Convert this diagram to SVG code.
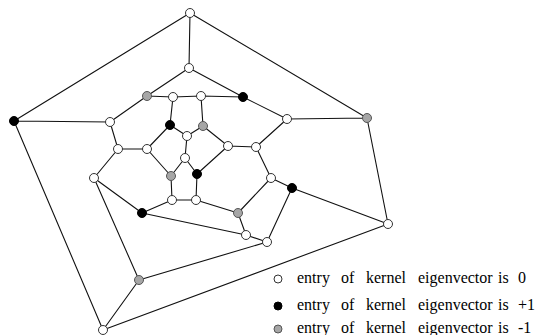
<svg xmlns="http://www.w3.org/2000/svg" width="538" height="335" viewBox="0 0 538 335">
<style>
.e{stroke:#111;stroke-width:1.1;fill:none}
.z{fill:#fff;stroke:#333;stroke-width:1}
.p{fill:#000;stroke:#000;stroke-width:1}
.m{fill:#a6a6a6;stroke:#555;stroke-width:1}
.n circle{r:4.5}
text{font-family:"Liberation Serif","Times New Roman",serif;font-size:16px;fill:#000}
</style>
<rect width="538" height="335" fill="#fff"/>
<g id="connectors">
<path class="e" d="M190,13L189,68M190,13L14,121M190,13L367,118M14,121L110,122M14,121L103,330M367,118L287,119M367,118L388,224M388,224L292,188M388,224L103,330M103,330L139,280M189,68L147,96M189,68L243,97M147,96L173,97L201,96L243,97M147,96L110,122M243,97L287,119M173,97L170,125M201,96L203,126M110,122L118,149M118,149L147,149M118,149L94,178M147,149L170,125M147,149L171,176M170,125L187,136M187,136L203,126M187,136L185,158M185,158L197,174M185,158L171,176M171,176L172,200M197,174L196,200M172,200L196,200M172,200L142,213M196,200L238,213M197,174L228,146M203,126L228,146M228,146L256,147M256,147L287,119M256,147L271,178M271,178L292,188M271,178L238,213M238,213L246,235M292,188L267,242M246,235L142,213M267,242L139,280M94,178L142,213M94,178L139,280M246,235L267,242"/>
</g>
<g id="nodes" class="n">
<circle id="n1" class="z" cx="190" cy="13" r="4.5"/>
<circle id="n2" class="z" cx="189" cy="68" r="4.5"/>
<circle id="n3" class="p" cx="14" cy="121" r="4.5"/>
<circle id="n4" class="m" cx="367" cy="118" r="4.5"/>
<circle id="n5" class="z" cx="388" cy="224" r="4.5"/>
<circle id="n6" class="z" cx="103" cy="330" r="4.5"/>
<circle id="n7" class="m" cx="139" cy="280" r="4.5"/>
<circle id="n8" class="m" cx="147" cy="96" r="4.5"/>
<circle id="n9" class="z" cx="173" cy="97" r="4.5"/>
<circle id="n10" class="z" cx="201" cy="96" r="4.5"/>
<circle id="n11" class="p" cx="243" cy="97" r="4.5"/>
<circle id="n12" class="z" cx="110" cy="122" r="4.5"/>
<circle id="n13" class="z" cx="287" cy="119" r="4.5"/>
<circle id="n14" class="p" cx="170" cy="125" r="4.5"/>
<circle id="n15" class="m" cx="203" cy="126" r="4.5"/>
<circle id="n16" class="z" cx="187" cy="136" r="4.5"/>
<circle id="n17" class="z" cx="118" cy="149" r="4.5"/>
<circle id="n18" class="z" cx="147" cy="149" r="4.5"/>
<circle id="n19" class="z" cx="228" cy="146" r="4.5"/>
<circle id="n20" class="z" cx="256" cy="147" r="4.5"/>
<circle id="n21" class="z" cx="185" cy="158" r="4.5"/>
<circle id="n22" class="p" cx="197" cy="174" r="4.5"/>
<circle id="n23" class="m" cx="171" cy="176" r="4.5"/>
<circle id="n24" class="z" cx="94" cy="178" r="4.5"/>
<circle id="n25" class="z" cx="271" cy="178" r="4.5"/>
<circle id="n26" class="p" cx="292" cy="188" r="4.5"/>
<circle id="n27" class="z" cx="172" cy="200" r="4.5"/>
<circle id="n28" class="z" cx="196" cy="200" r="4.5"/>
<circle id="n29" class="p" cx="142" cy="213" r="4.5"/>
<circle id="n30" class="m" cx="238" cy="213" r="4.5"/>
<circle id="n31" class="z" cx="246" cy="235" r="4.5"/>
<circle id="n32" class="z" cx="267" cy="242" r="4.5"/>
</g>
<g id="legend">
<circle class="z" cx="278" cy="279" r="4"/>
<circle class="p" cx="278" cy="306" r="4"/>
<circle class="m" cx="278" cy="329" r="4"/>
<text y="283"><tspan x="297">entry</tspan><tspan x="341">of</tspan><tspan x="366">kernel</tspan><tspan x="418">eigenvector</tspan><tspan x="498">is</tspan><tspan x="518">0</tspan></text>
<text y="310"><tspan x="297">entry</tspan><tspan x="341">of</tspan><tspan x="366">kernel</tspan><tspan x="418">eigenvector</tspan><tspan x="498">is</tspan><tspan x="518">+1</tspan></text>
<text y="333"><tspan x="297">entry</tspan><tspan x="341">of</tspan><tspan x="366">kernel</tspan><tspan x="418">eigenvector</tspan><tspan x="498">is</tspan><tspan x="518">-1</tspan></text>
</g>
</svg>
